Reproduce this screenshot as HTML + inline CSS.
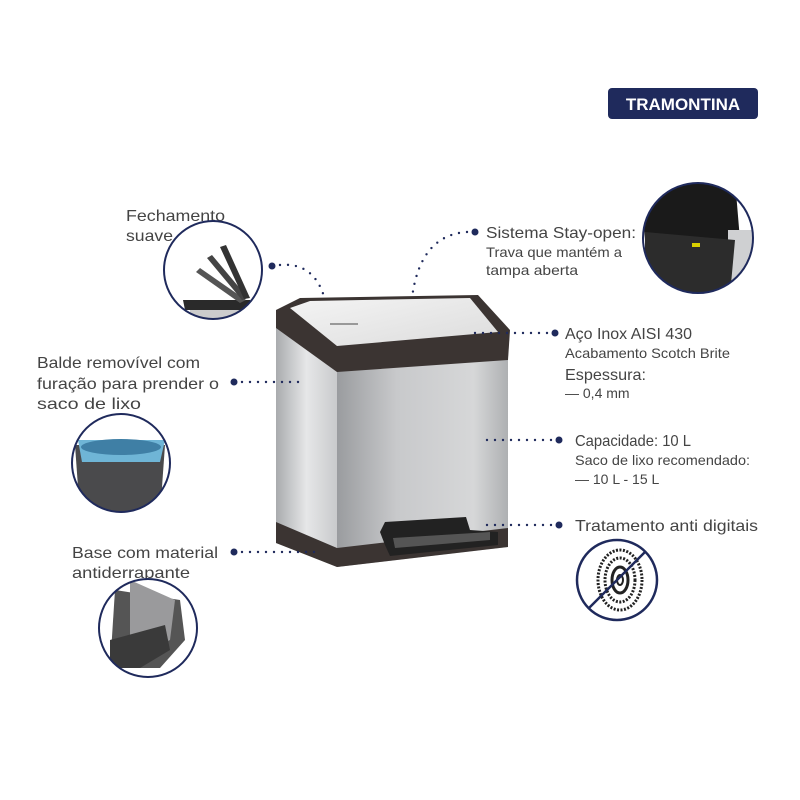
<!DOCTYPE html>
<html><head><meta charset="utf-8"><style>
body{margin:0;background:#fff;}
svg{display:block}
text{font-family:"Liberation Sans",sans-serif;fill:#444}
</style></head><body>
<svg width="800" height="800" viewBox="0 0 800 800">
<defs>
<linearGradient id="side" x1="0" x2="1"><stop offset="0" stop-color="#a9abae"/><stop offset="0.5" stop-color="#e6e7e8"/><stop offset="1" stop-color="#c9cacc"/></linearGradient>
<linearGradient id="front" x1="0" x2="1"><stop offset="0" stop-color="#9a9c9f"/><stop offset="0.35" stop-color="#c8c9cb"/><stop offset="0.8" stop-color="#d6d7d8"/><stop offset="1" stop-color="#aeb0b2"/></linearGradient>
<linearGradient id="lid" x1="0" y1="0" x2="1" y2="1"><stop offset="0" stop-color="#f4f4f4"/><stop offset="1" stop-color="#dcdcdc"/></linearGradient>
<clipPath id="c1"><circle cx="213" cy="270" r="49"/></clipPath>
<clipPath id="c2"><circle cx="121" cy="463" r="49"/></clipPath>
<clipPath id="c3"><circle cx="148" cy="628" r="49"/></clipPath>
<clipPath id="c4"><circle cx="698" cy="238" r="55"/></clipPath>
</defs>
<rect x="608" y="88" width="150" height="31" rx="4" fill="#1f2a5c"/>
<text x="683" y="110" text-anchor="middle" font-size="17" font-weight="bold" style="fill:#fff">TRAMONTINA</text>

<polygon points="276,325 337,368 337,567 276,543" fill="url(#side)"/>
<polygon points="337,368 508,358 508,547 337,567" fill="url(#front)"/>
<polygon points="276,522 337,548 508,528 508,547 337,567 276,543" fill="#3b3432"/>
<polygon points="276,310 300,298 478,295 510,330 508,360 337,372 276,328" fill="#3b3432"/>
<polygon points="290,308 310,301 470,298 498,332 337,346" fill="url(#lid)"/>
<rect x="330" y="323" width="28" height="2" fill="#999"/>
<polygon points="380,532 385,522 466,517 470,530 498,532 498,545 390,556 385,545" fill="#222"/>
<polygon points="393,538 490,532 490,540 395,548" fill="#555"/>

<g fill="#1f2a5c">
<circle cx="272" cy="266" r="3.5"/><circle cx="475" cy="232" r="3.5"/>
<circle cx="555" cy="333" r="3.5"/><circle cx="234" cy="382" r="3.5"/>
<circle cx="559" cy="440" r="3.5"/><circle cx="559" cy="525" r="3.5"/>
<circle cx="234" cy="552" r="3.5"/>
</g>
<g stroke="#1f2a5c" stroke-width="2.4" stroke-dasharray="0 8" stroke-linecap="round" fill="none">
<path d="M280,265 Q315,262 325,300"/>
<path d="M467,232 Q420,235 412,298"/>
<path d="M547,333 L470,333"/>
<path d="M242,382 L303,382"/>
<path d="M551,440 L482,440"/>
<path d="M551,525 L482,525"/>
<path d="M242,552 L320,552"/>
</g>

<text x="126" y="221" font-size="16" textLength="99" lengthAdjust="spacingAndGlyphs">Fechamento</text>
<text x="126" y="241" font-size="16" textLength="47" lengthAdjust="spacingAndGlyphs">suave</text>
<text x="486" y="238" font-size="16" textLength="150" lengthAdjust="spacingAndGlyphs">Sistema Stay-open:</text>
<text x="486" y="257" font-size="14" textLength="136" lengthAdjust="spacingAndGlyphs">Trava que mantém a</text>
<text x="486" y="275" font-size="14" textLength="92" lengthAdjust="spacingAndGlyphs">tampa aberta</text>
<text x="565" y="339" font-size="16" textLength="127" lengthAdjust="spacingAndGlyphs">Aço Inox AISI 430</text>
<text x="565" y="358" font-size="14" textLength="165" lengthAdjust="spacingAndGlyphs">Acabamento Scotch Brite</text>
<text x="565" y="380" font-size="16" textLength="81" lengthAdjust="spacingAndGlyphs">Espessura:</text>
<text x="565" y="398" font-size="14">— 0,4 mm</text>
<text x="37" y="368" font-size="16" textLength="163" lengthAdjust="spacingAndGlyphs">Balde removível com</text>
<text x="37" y="389" font-size="16" textLength="182" lengthAdjust="spacingAndGlyphs">furação para prender o</text>
<text x="37" y="409" font-size="16" textLength="104" lengthAdjust="spacingAndGlyphs">saco de lixo</text>
<text x="575" y="446" font-size="16" textLength="116" lengthAdjust="spacingAndGlyphs">Capacidade: 10 L</text>
<text x="575" y="465" font-size="14" textLength="175" lengthAdjust="spacingAndGlyphs">Saco de lixo recomendado:</text>
<text x="575" y="484" font-size="14">— 10 L - 15 L</text>
<text x="575" y="531" font-size="16" textLength="183" lengthAdjust="spacingAndGlyphs">Tratamento anti digitais</text>
<text x="72" y="558" font-size="16" textLength="146" lengthAdjust="spacingAndGlyphs">Base com material</text>
<text x="72" y="578" font-size="16" textLength="118" lengthAdjust="spacingAndGlyphs">antiderrapante</text>

<g clip-path="url(#c1)">
<rect x="160" y="218" width="110" height="110" fill="#fff"/>
<rect x="190" y="308" width="60" height="22" fill="#ccc"/>
<polygon points="183,300 250,300 252,310 185,310" fill="#2a2a2a"/>
<polygon points="200,268 246,300 240,303 196,272" fill="#555"/>
<polygon points="212,255 248,298 242,300 207,258" fill="#444"/>
<polygon points="226,245 250,298 244,299 220,247" fill="#333"/>
</g>
<circle cx="213" cy="270" r="49" fill="none" stroke="#1f2a5c" stroke-width="2"/>

<g clip-path="url(#c2)">
<rect x="70" y="412" width="102" height="102" fill="#fff"/>
<polygon points="75,445 165,445 160,515 80,515" fill="#4a4a4c"/>
<polygon points="78,440 165,440 160,462 82,462" fill="#6fb5d6"/>
<ellipse cx="121" cy="447" rx="40" ry="8" fill="#3f7fa5"/>
</g>
<circle cx="121" cy="463" r="49" fill="none" stroke="#1f2a5c" stroke-width="2"/>

<g clip-path="url(#c3)">
<rect x="97" y="577" width="102" height="102" fill="#fff"/>
<polygon points="115,590 180,600 185,640 160,668 110,668" fill="#555"/>
<polygon points="130,580 175,600 170,640 130,660" fill="#9a9a9c"/>
<polygon points="110,640 165,625 170,650 140,668 110,668" fill="#3a3a3a"/>
</g>
<circle cx="148" cy="628" r="49" fill="none" stroke="#1f2a5c" stroke-width="2"/>

<g clip-path="url(#c4)">
<rect x="640" y="180" width="120" height="120" fill="#fff"/>
<polygon points="640,180 735,180 740,240 645,240" fill="#1a1a1a"/>
<rect x="728" y="230" width="30" height="70" fill="#cfd0d2"/>
<polygon points="645,232 735,240 730,295 645,295" fill="#2c2c2c"/>
<rect x="692" y="243" width="8" height="4" fill="#d9d000"/>
</g>
<circle cx="698" cy="238" r="55" fill="none" stroke="#1f2a5c" stroke-width="2"/>

<g>
<ellipse cx="620" cy="580" rx="22" ry="30" fill="none" stroke="#222" stroke-width="3" stroke-dasharray="2 1.5"/>
<ellipse cx="620" cy="580" rx="15" ry="22" fill="none" stroke="#222" stroke-width="3" stroke-dasharray="2 1.5"/>
<ellipse cx="620" cy="580" rx="8" ry="13" fill="none" stroke="#222" stroke-width="3"/>
<ellipse cx="620" cy="580" rx="3" ry="5" fill="none" stroke="#222" stroke-width="2"/>
</g>
<circle cx="617" cy="580" r="40" fill="none" stroke="#1f2a5c" stroke-width="2.5"/>
<line x1="589" y1="608" x2="645" y2="552" stroke="#1f2a5c" stroke-width="2.5"/>
</svg>
</body></html>
